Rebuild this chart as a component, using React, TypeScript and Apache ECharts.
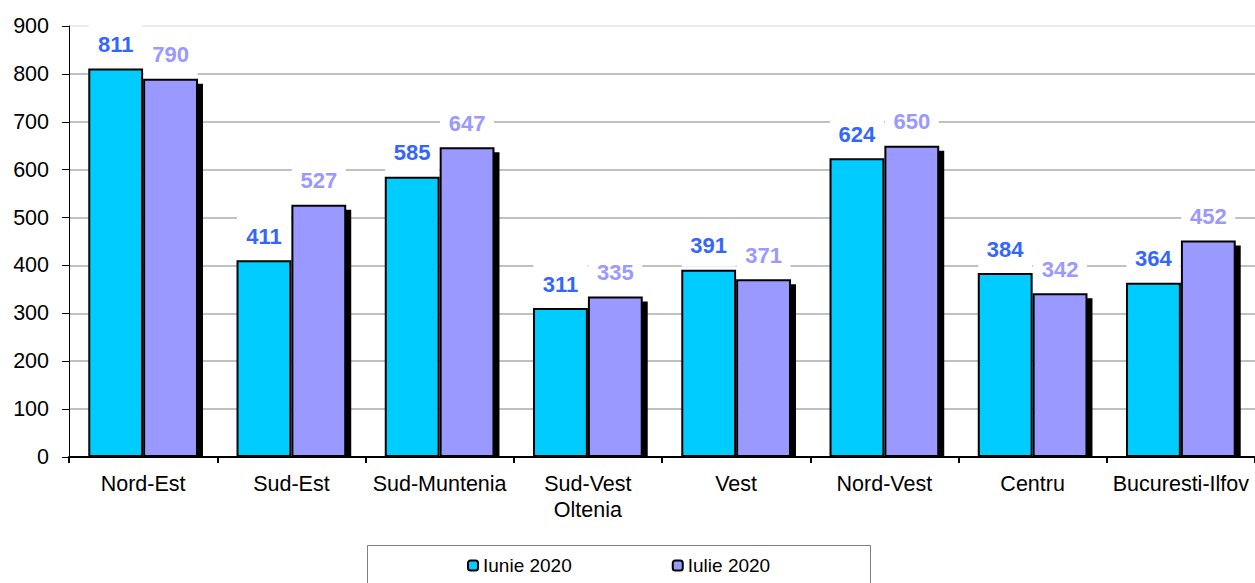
import React, { useEffect, useRef } from "react";
import * as echarts from "echarts";

const categories = ["Nord-Est", "Sud-Est", "Sud-Muntenia", "Sud-Vest\nOltenia", "Vest", "Nord-Vest", "Centru", "Bucuresti-Ilfov"];
const iunie = [811, 411, 585, 311, 391, 624, 384, 364];
const iulie = [790, 527, 647, 335, 371, 650, 342, 452];
const seriesNames = ["Iunie 2020", "Iulie 2020"];

const CAT_GAP = 0.26;

export default function App() {
  const ref = useRef<HTMLDivElement>(null);
  useEffect(() => {
    document.body.style.margin = "0";
    const chart = echarts.init(ref.current!, null, { renderer: "svg" });
    const gridColors = Array(9).fill("#c0c0c0").concat(["#ececec"]);
    const font = "'Liberation Sans', Arial, sans-serif";
    const labelCommon = {
      show: true,
      position: "top",
      distance: 3,
      fontSize: 22,
      fontWeight: "bold",
      fontFamily: font,
      backgroundColor: "#ffffff",
      width: 54,
      align: "center",
      padding: [10, 0, 10, 0],
    };
    chart.setOption({
      animation: false,
      backgroundColor: "#ffffff",
      textStyle: { fontFamily: font },
      grid: { left: 69, right: 0, top: 26, bottom: 126, containLabel: false },
      legend: {
        data: seriesNames,
        left: 462,
        top: 551,
        itemWidth: 10,
        itemHeight: 10,
        itemGap: 100,
        textStyle: { fontSize: 19, color: "#000", fontFamily: font },
      },
      graphic: [
        {
          type: "rect",
          left: 365,
          top: 543,
          shape: { x: 0, y: 0, width: 503, height: 60 },
          style: { fill: "none", stroke: "#7f7f7f", lineWidth: 1 },
          silent: true,
        },
      ],
      xAxis: {
        type: "category",
        data: categories,
        axisLine: { lineStyle: { color: "#000", width: 2 } },
        axisTick: { show: true, length: 6, lineStyle: { color: "#000", width: 2 } },
        axisLabel: { interval: 0, color: "#000", fontSize: 21.5, margin: 14, lineHeight: 26, fontFamily: font },
      },
      yAxis: {
        type: "value",
        min: 0,
        max: 900,
        interval: 100,
        axisLine: { show: true, lineStyle: { color: "#000", width: 1 } },
        axisTick: { show: true, length: 7, lineStyle: { color: "#000" } },
        axisLabel: { color: "#000", fontSize: 21.5, margin: 20, fontFamily: font },
        splitLine: { show: true, lineStyle: { color: gridColors, width: 2 } },
      },
      series: [
        {
          name: seriesNames[0],
          type: "bar",
          data: iunie,
          barGap: "0%",
          barCategoryGap: CAT_GAP * 100 + "%",
          itemStyle: { color: "#00ccff", borderColor: "#000", borderWidth: 2 },
          label: { ...labelCommon, color: "#3366ff" },
          z: 3,
        },
        {
          name: seriesNames[1],
          type: "bar",
          data: iulie,
          barGap: "0%",
          barCategoryGap: CAT_GAP * 100 + "%",
          itemStyle: { color: "#9999ff", borderColor: "#000", borderWidth: 2 },
          label: { ...labelCommon, color: "#9999ff" },
          z: 3,
        },
        {
          name: "shadow",
          type: "custom",
          z: 2,
          silent: true,
          data: iulie.map((v, i) => [i, v]),
          encode: { x: 0, y: 1 },
          renderItem: (params: any, api: any) => {
            const idx = api.value(0);
            const v = api.value(1);
            const top = api.coord([idx, v]);
            const base = api.coord([idx, 0]);
            const band = api.size([1, 0])[0];
            const bw = (band * (1 - CAT_GAP)) / 2;
            return {
              type: "rect",
              shape: { x: top[0] + 5, y: top[1] + 5, width: bw, height: base[1] - top[1] - 5 },
              style: { fill: "#000" },
            };
          },
        },
      ],
    });
    return () => chart.dispose();
  }, []);
  return <div ref={ref} style={{ width: 1255, height: 583 }} />;
}
